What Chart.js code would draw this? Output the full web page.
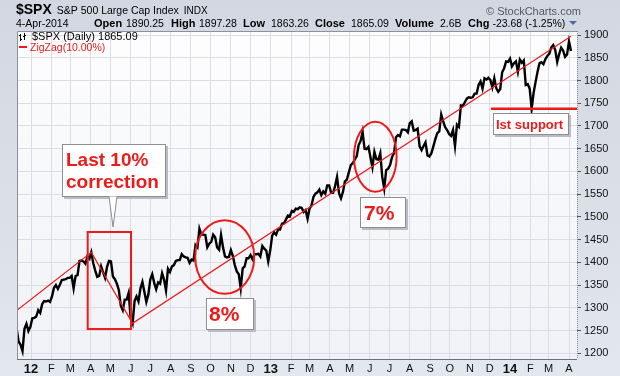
<!DOCTYPE html>
<html><head><meta charset="utf-8">
<script src="https://cdn.jsdelivr.net/npm/chart.js@4.4.1/dist/chart.umd.min.js"></script>
<style>
html,body{margin:0;padding:0;}
body{width:620px;height:376px;overflow:hidden;background:linear-gradient(180deg,#d2d7e1 0%,#dadfe8 55%,#e3e7ee 100%);}
#wrap{position:relative;width:620px;height:376px;}
canvas{position:absolute;left:0;top:0;}
</style></head><body><div id="wrap"><canvas id="c" width="620" height="376"></canvas></div>
<script>
// ---- data ----
// S&P 500 daily values sampled every 3 calendar days, starting 10-Dec-2011 (day -22 from 1-Jan-2012)
const startDay = -22;
const stepDays = 3;
const spxValues = [
 1255,1226,1219,1205,1254,1265,1249,1258,1277,1278,
 1281,1295,1289,1308,1315,1314,1316,1313,1325,1344,
 1350,1342,1351,1361,1362,1363,1366,1366,1370,1343,
 1370,1372,1403,1404,1402,1397,1413,1408,1422,1398,
 1382,1368,1370,1391,1378,1366,1390,1403,1402,1369,
 1363,1353,1339,1305,1295,1318,1318,1333,1278,1266,
 1315,1325,1314,1343,1357,1335,1313,1329,1362,1374,
 1355,1341,1356,1353,1376,1362,1338,1386,1379,1391,
 1394,1403,1405,1405,1418,1413,1411,1410,1399,1406,
 1404,1438,1433,1474,1461,1461,1460,1433,1441,1445,
 1461,1455,1433,1428,1460,1433,1413,1411,1412,1427,
 1414,1394,1380,1374,1343,1387,1391,1409,1409,1416,
 1407,1418,1418,1419,1413,1436,1430,1426,1402,1426,
 1459,1466,1461,1472,1472,1485,1486,1494,1503,1501,
 1513,1511,1518,1517,1521,1520,1511,1515,1496,1518,
 1525,1544,1551,1554,1560,1548,1556,1551,1569,1569,
 1553,1553,1568,1588,1552,1541,1555,1578,1582,1598,
 1614,1618,1626,1633,1658,1667,1687,1650,1649,1654,
 1631,1609,1643,1627,1626,1640,1588,1562,1603,1606,
 1614,1632,1640,1675,1680,1677,1692,1692,1691,1686,
 1706,1710,1690,1691,1694,1655,1647,1656,1664,1635,
 1633,1640,1655,1671,1684,1688,1725,1710,1697,1691,
 1682,1678,1691,1656,1703,1698,1745,1744,1752,1760,
 1763,1762,1763,1771,1771,1790,1798,1782,1805,1802,
 1806,1801,1785,1805,1783,1775,1781,1818,1827,1842,
 1841,1848,1831,1838,1842,1819,1846,1839,1844,1790,
 1792,1782,1738,1773,1797,1819,1838,1840,1836,1847,
 1854,1859,1873,1878,1867,1841,1858,1872,1866,1852,
 1857,1886,1865
];
const zigzagDays = [-23, 92, 155, 824];
const zigzagValues = [1293, 1422, 1266, 1897];
const xTickLabels = ['12','F','M','A','M','J','J','A','S','O','N','D',
                     '13','F','M','A','M','J','J','A','S','O','N','D',
                     '14','F','M','A'];
const yTickValues = [1200,1250,1300,1350,1400,1450,1500,1550,1600,1650,1700,1750,1800,1850,1900];
const supportLevel = 1738;

// ---- derived ----
const DAY = 86400000, T0 = Date.UTC(2012,0,1);
const monthTickDays = xTickLabels.map((_, k) => Math.round((Date.UTC(2012, k, 1) - T0) / DAY));
const spxPoints = spxValues.map((v, i) => ({x: startDay + i * stepDays, y: v}));
const zigPoints = zigzagDays.map((d, i) => ({x: d, y: zigzagValues[i]}));

const FONT = "'Liberation Sans', Arial, sans-serif";
const RED = '#ee1a1a';

const bgPlugin = {
  id: 'bg',
  beforeDraw(chart) {
    const {ctx, chartArea: a} = chart;
    ctx.save();
    const g = ctx.createLinearGradient(0, a.top, 0, a.bottom);
    g.addColorStop(0, '#fdfdfe');
    g.addColorStop(1, '#f0f2f7');
    ctx.fillStyle = g;
    ctx.fillRect(a.left, a.top, a.right - a.left, a.bottom - a.top);
    ctx.restore();
  }
};

function box(ctx, x, y, w, h) {
  ctx.fillStyle = '#b9bcc2';
  ctx.fillRect(x + 2, y + 2, w, h);
  ctx.fillStyle = '#ffffff';
  ctx.fillRect(x, y, w, h);
  ctx.strokeStyle = '#8e8e8e';
  ctx.lineWidth = 1;
  ctx.strokeRect(x + 0.5, y + 0.5, w - 1, h - 1);
}

function flow(ctx, items, y) {
  let end = -1e9;
  items.forEach(([t, x, font, gap]) => {
    ctx.font = font;
    const px = Math.max(x, end + gap);
    ctx.fillText(t, px, y);
    end = px + ctx.measureText(t).width;
  });
}

const annPlugin = {
  id: 'ann',
  afterDatasetsDraw(chart) {
    const {ctx, chartArea: a} = chart;
    const xs = chart.scales.x, ys = chart.scales.y;
    const X = d => xs.getPixelForValue(d), Y = v => ys.getPixelForValue(v);
    ctx.save();
    // plot border
    ctx.strokeStyle = '#8c9099';
    ctx.lineWidth = 1;
    ctx.beginPath();
    ctx.moveTo(a.left + 0.5, a.bottom); ctx.lineTo(a.left + 0.5, a.top + 0.5); ctx.lineTo(a.right, a.top + 0.5);
    ctx.stroke();
    ctx.strokeStyle = '#6d7079';
    ctx.beginPath(); ctx.moveTo(a.left, a.bottom + 0.5); ctx.lineTo(a.right, a.bottom + 0.5); ctx.stroke();
    ctx.strokeStyle = '#8a8e97';
    ctx.setLineDash([1, 1]);
    ctx.beginPath(); ctx.moveTo(a.right + 0.5, a.top); ctx.lineTo(a.right + 0.5, a.bottom); ctx.stroke();
    ctx.setLineDash([]);

    // clip annotations to chart area
    ctx.save();
    ctx.beginPath(); ctx.rect(a.left, a.top, a.right - a.left, a.bottom - a.top); ctx.clip();
    ctx.strokeStyle = RED;
    ctx.lineWidth = 2;
    // correction rectangle
    const rx0 = X(86.5), rx1 = X(152.6), ry0 = Y(1466.8), ry1 = Y(1253.4);
    ctx.strokeRect(rx0, ry0, rx1 - rx0, ry1 - ry0);
    // ellipses
    [[295.6, 1411.8, 45, 81], [525.4, 1632.4, 32.5, 77]].forEach(([d, v, rd, rv]) => {
      const cx = X(d), cy = Y(v);
      const rpx = X(d + rd) - cx, rpy = cy - Y(v + rv);
      ctx.beginPath(); ctx.ellipse(cx, cy, rpx, rpy, 0, 0, Math.PI * 2); ctx.stroke();
    });
    // support line
    ctx.lineWidth = 2.5;
    ctx.beginPath(); ctx.moveTo(X(702), Y(supportLevel)); ctx.lineTo(a.right, Y(supportLevel)); ctx.stroke();
    ctx.restore();

    // callout box with pointer
    box(ctx, 62, 144, 104, 53);
    ctx.beginPath();
    ctx.moveTo(109, 196.5); ctx.lineTo(113, 227); ctx.lineTo(117, 196.5);
    ctx.fillStyle = '#ffffff'; ctx.fill();
    ctx.strokeStyle = '#8e8e8e'; ctx.lineWidth = 1; ctx.stroke();
    ctx.fillStyle = RED;
    ctx.textBaseline = 'alphabetic';
    ctx.textAlign = 'left';
    ctx.font = 'bold 19px ' + FONT;
    ctx.fillText('Last 10%', 66, 166);
    ctx.fillText('correction', 66, 188);

    box(ctx, 206, 298, 48, 32);
    ctx.fillStyle = RED; ctx.font = 'bold 21px ' + FONT;
    ctx.fillText('8%', 209, 321);

    box(ctx, 360, 197, 46, 31);
    ctx.fillStyle = RED; ctx.font = 'bold 21px ' + FONT;
    ctx.fillText('7%', 364, 220);

    box(ctx, 493, 113, 76, 22);
    ctx.fillStyle = RED; ctx.font = 'bold 13px ' + FONT;
    ctx.fillText('Ist support', 496, 128.5);

    // in-chart legend
    ctx.fillStyle = '#000';
    ctx.fillRect(a.left + 3, 34, 1, 7); ctx.fillRect(a.left + 2, 35, 1, 1); ctx.fillRect(a.left + 4, 39, 1, 1);
    ctx.fillRect(a.left + 7, 33, 1, 7); ctx.fillRect(a.left + 6, 36, 1, 1); ctx.fillRect(a.left + 8, 35, 1, 1);
    ctx.font = '11px ' + FONT;
    ctx.fillText('$SPX (Daily) 1865.09', 32, 40);
    ctx.fillStyle = RED;
    ctx.fillRect(19, 46, 8, 2);
    ctx.font = '10.5px ' + FONT;
    ctx.fillText('ZigZag(10.00%)', 30, 51);

    // header
    ctx.fillStyle = '#000';
    const B = 'bold 11px ' + FONT, R = '10.5px ' + FONT;
    flow(ctx, [['$SPX', 16, 'bold 14px ' + FONT, 0],
               ['S&P 500 Large Cap Index', 54, '10.5px ' + FONT, 5],
               ['INDX', 182, '10px ' + FONT, 5]], 14);
    flow(ctx, [['4-Apr-2014', 16, R, 0], ['Open', 94, B, 8], ['1890.25', 126, R, 3],
      ['High', 171, B, 6], ['1897.28', 199, R, 3], ['Low', 242, B, 6], ['1863.26', 271, R, 3],
      ['Close', 315, B, 6], ['1865.09', 351, R, 3], ['Volume', 395, B, 6], ['2.6B', 440, R, 3],
      ['Chg', 468, B, 6], ['-23.68 (-1.25%)', 490, R, 3]], 26.5);
    ctx.fillStyle = '#4a6a9c';
    ctx.beginPath(); ctx.moveTo(569, 21); ctx.lineTo(577, 21); ctx.lineTo(573, 25); ctx.closePath(); ctx.fill();
    ctx.fillStyle = '#555a63';
    ctx.font = '11px ' + FONT;
    ctx.fillText('\u00A9 StockCharts.com', 486, 15);
    ctx.restore();
  }
};

new Chart(document.getElementById('c').getContext('2d'), {
  type: 'line',
  data: {
    datasets: [
      {data: zigPoints, borderColor: RED, borderWidth: 1.2, pointRadius: 0, tension: 0, clip: 0, order: 0},
      {data: spxPoints, borderColor: '#000000', borderWidth: 2.4, pointRadius: 0, tension: 0, clip: 0, order: 1}
    ]
  },
  options: {
    animation: false, responsive: false, devicePixelRatio: 1,
    layout: {padding: {left: 17, top: 31, right: 0, bottom: 0}},
    plugins: {legend: {display: false}, tooltip: {enabled: false}},
    scales: {
      x: {
        type: 'linear', min: -21.4, max: 833.2,
        afterBuildTicks: s => { s.ticks = monthTickDays.map(v => ({value: v})); },
        afterFit: s => { s.height = 17; },
        grid: {color: '#dcdde3', drawTicks: false},
        border: {display: false},
        ticks: {
          autoSkip: false, maxRotation: 0, padding: 3, color: '#111',
          callback: (v, i) => xTickLabels[i],
          font: c => (c.index % 12 === 0) ? {family: FONT, size: 13, weight: 'bold'} : {family: FONT, size: 11}
        }
      },
      y: {
        type: 'linear', position: 'right', min: 1187.5, max: 1908.8,
        afterBuildTicks: s => { s.ticks = yTickValues.map(v => ({value: v})); },
        afterFit: s => { s.width = 43; },
        grid: {color: '#dcdde3', tickLength: 4, tickColor: '#555'},
        border: {display: false},
        ticks: {padding: 3, color: '#111', font: {family: FONT, size: 11}, callback: v => String(v)}
      }
    }
  },
  plugins: [bgPlugin, annPlugin]
});
</script></body></html>
